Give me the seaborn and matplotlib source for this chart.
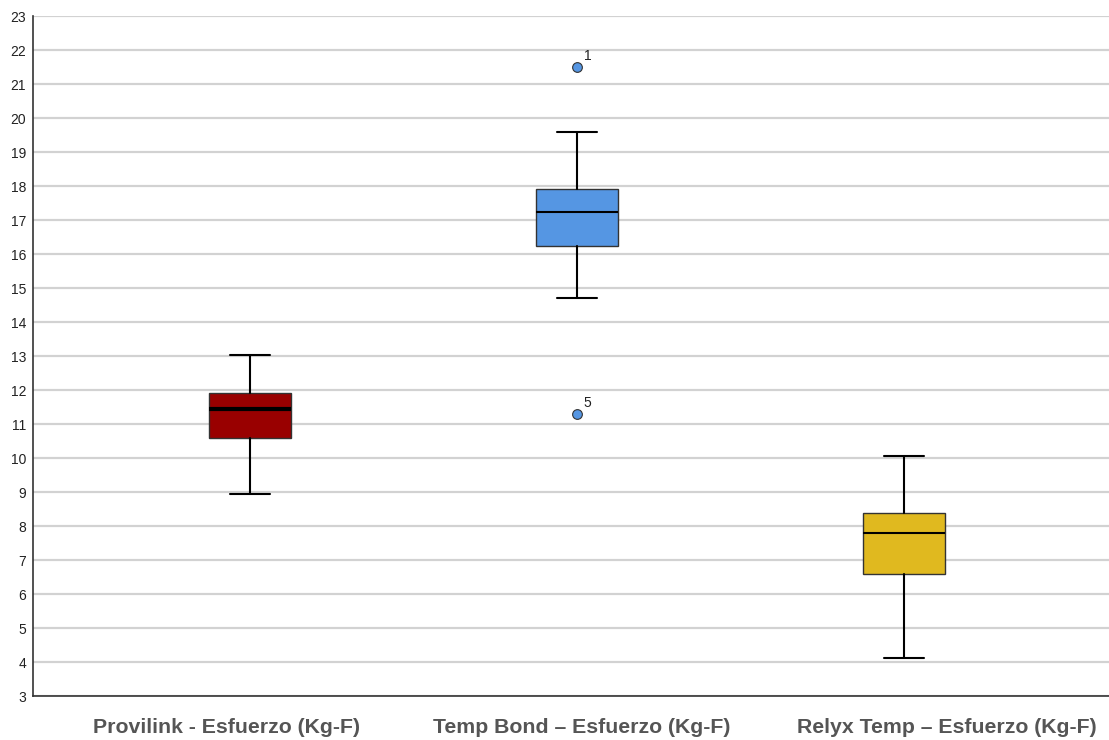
import matplotlib
matplotlib.use("Agg")
import matplotlib.pyplot as plt
import matplotlib.transforms as mtransforms
import seaborn as sns

# five-number summaries (Kg-F)
groups = ["Provilink - Esfuerzo (Kg-F)", "Temp Bond \u2013 Esfuerzo (Kg-F)", "Relyx Temp \u2013 Esfuerzo (Kg-F)"]
whisker_low = [8.94, 14.71, 4.12]
q1 = [10.59, 16.24, 6.59]
median = [11.44, 17.24, 7.79]
q3 = [11.91, 17.91, 8.38]
whisker_high = [13.03, 19.59, 10.06]
outliers = [[], [21.5, 11.29], []]
outlier_ids = [[], ["1", "5"], []]
colors = ["#990000", "#5596e3", "#e0b91f"]
median_widths = [3.0, 1.5, 1.5]
yticks = list(range(3, 24))

sns.set_theme(style="white")
plt.rcParams["font.family"] = ["Liberation Sans", "DejaVu Sans"]

fig = plt.figure(figsize=(11.09, 7.40), dpi=100)
ax = fig.add_axes([33 / 1109, 44 / 740, 1076 / 1109, 680 / 740])

stats = []
for i, name in enumerate(groups):
    stats.append({
        "label": name,
        "whislo": whisker_low[i],
        "q1": q1[i],
        "med": median[i],
        "q3": q3[i],
        "whishi": whisker_high[i],
        "fliers": outliers[i],
    })

positions = list(range(len(groups)))
for i, st in enumerate(stats):
    ax.bxp(
        [st],
        positions=[positions[i]],
        widths=0.25,
        patch_artist=True,
        boxprops={"facecolor": colors[i], "edgecolor": "#333333", "linewidth": 1.0},
        medianprops={"color": "black", "linewidth": median_widths[i]},
        whiskerprops={"color": "black", "linewidth": 1.5},
        capprops={"color": "black", "linewidth": 1.5},
        capwidths=0.125,
        flierprops={"marker": "o", "markerfacecolor": "#5596e3", "markeredgecolor": "#333333",
                    "markersize": 7, "markeredgewidth": 0.8},
        zorder=3,
    )
    for val, lab in zip(outliers[i], outlier_ids[i]):
        ax.annotate(lab, (positions[i], val), xytext=(5, 3), textcoords="offset points",
                    fontsize=10, color="#222222", ha="left", va="bottom")

ax.set_xlim(-0.6636, 2.627)
ax.set_ylim(3, 23)
ax.set_yticks(yticks)
ax.set_yticklabels([str(t) for t in yticks], fontsize=10, color="#222222")
ax.yaxis.grid(True, color="#d2d2d2", linewidth=1.6, zorder=0)
ax.set_axisbelow(True)
ax.tick_params(axis="y", length=0, pad=5)

ax.set_xticks(positions)
ax.set_xticklabels(groups, fontsize=15.3, fontweight="bold", color="#555555")
ax.tick_params(axis="x", length=0, pad=16)
# SPSS places the category labels slightly off the box centres
label_shift = [-23, 5, 43]
for lbl, dx in zip(ax.get_xticklabels(), label_shift):
    lbl.set_transform(lbl.get_transform() + mtransforms.ScaledTranslation(dx / 100, 0, fig.dpi_scale_trans))

for side in ["top", "right"]:
    ax.spines[side].set_visible(False)
for side in ["left", "bottom"]:
    ax.spines[side].set_color("#333333")
    ax.spines[side].set_linewidth(1.2)

fig.savefig("out.png", dpi=100)
